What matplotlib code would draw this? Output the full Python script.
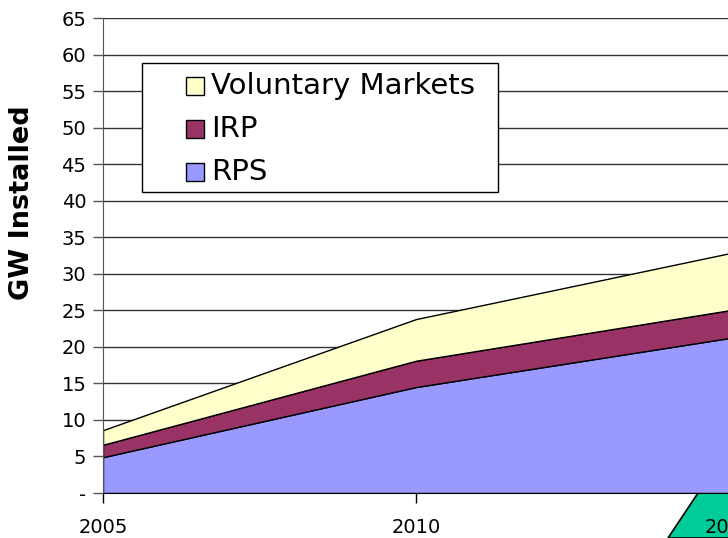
import matplotlib
matplotlib.use("Agg")
import matplotlib.pyplot as plt
from matplotlib.patches import Rectangle, Polygon

# data (GW installed, stacked)
years = [2005, 2010, 2015]
rps = [4.9, 14.5, 21.2]
irp = [1.7, 3.6, 3.8]
voluntary = [2.0, 5.7, 7.8]

series_names = ["Voluntary Markets", "IRP", "RPS"]
series_colors = ["#FFFFCC", "#993366", "#9999FF"]

y_ticks = list(range(0, 70, 5))
y_labels = ["-"] + [str(v) for v in y_ticks[1:]]

W, H = 728, 538
fig = plt.figure(figsize=(W / 100, H / 100), dpi=100)
fig.patch.set_facecolor("white")

# plot area runs past the right edge of the picture (cropped slide)
ax = fig.add_axes([103 / W, (H - 493) / H, (729 - 103) / W, (493 - 18) / H])

ax.stackplot(years, rps, irp, voluntary,
             colors=[series_colors[2], series_colors[1], series_colors[0]],
             edgecolor="black", linewidth=1.0, zorder=3)

ax.set_xlim(2005, 2015)
ax.set_ylim(0, 65)
ax.set_yticks(y_ticks)
ax.set_yticklabels(y_labels)
ax.set_xticks(years)
ax.set_xticklabels([str(y) for y in years])
ax.grid(axis="y", color="#333333", linewidth=1.0, zorder=0)
ax.set_axisbelow(True)

for side in ["top", "right"]:
    ax.spines[side].set_visible(False)
ax.spines["left"].set_color("#555555")
ax.spines["bottom"].set_color("black")
ax.spines["left"].set_zorder(4)
ax.spines["bottom"].set_zorder(4)

ax.tick_params(axis="y", direction="out", length=7, width=1, pad=5, labelsize=14, color="#555555")
ax.tick_params(axis="x", direction="out", length=7, width=1, pad=11, labelsize=14)

fig.text(22 / W, 1 - 203 / H, "GW Installed", rotation=90, ha="center", va="center",
         fontsize=19.5, fontweight="bold")

# legend box drawn by hand to match the wide frame of the original
fig.patches.append(Rectangle((142 / W, 1 - 192 / H), (498 - 142) / W, (192 - 63) / H,
                             transform=fig.transFigure, facecolor="white",
                             edgecolor="black", linewidth=1.0, zorder=5))
rows_y = [86, 129, 172]
for name, col, yy in zip(series_names, series_colors, rows_y):
    fig.patches.append(Rectangle((186 / W, 1 - (yy + 9) / H), 18 / W, 18 / H,
                                 transform=fig.transFigure, facecolor=col,
                                 edgecolor="black", linewidth=1.0, zorder=6))
    fig.text(211 / W, 1 - yy / H, name, ha="left", va="center", fontsize=21, zorder=7)

# green slide shape peeking in at the bottom right
fig.patches.append(Polygon([(698 / W, 1 - 493 / H), (730 / W, 1 - 493 / H),
                            (730 / W, 0), (668 / W, 0)], closed=True,
                           transform=fig.transFigure, facecolor="#00CC99",
                           edgecolor="black", linewidth=1.2, zorder=-1))

fig.savefig("out.png", dpi=100, facecolor="white")
